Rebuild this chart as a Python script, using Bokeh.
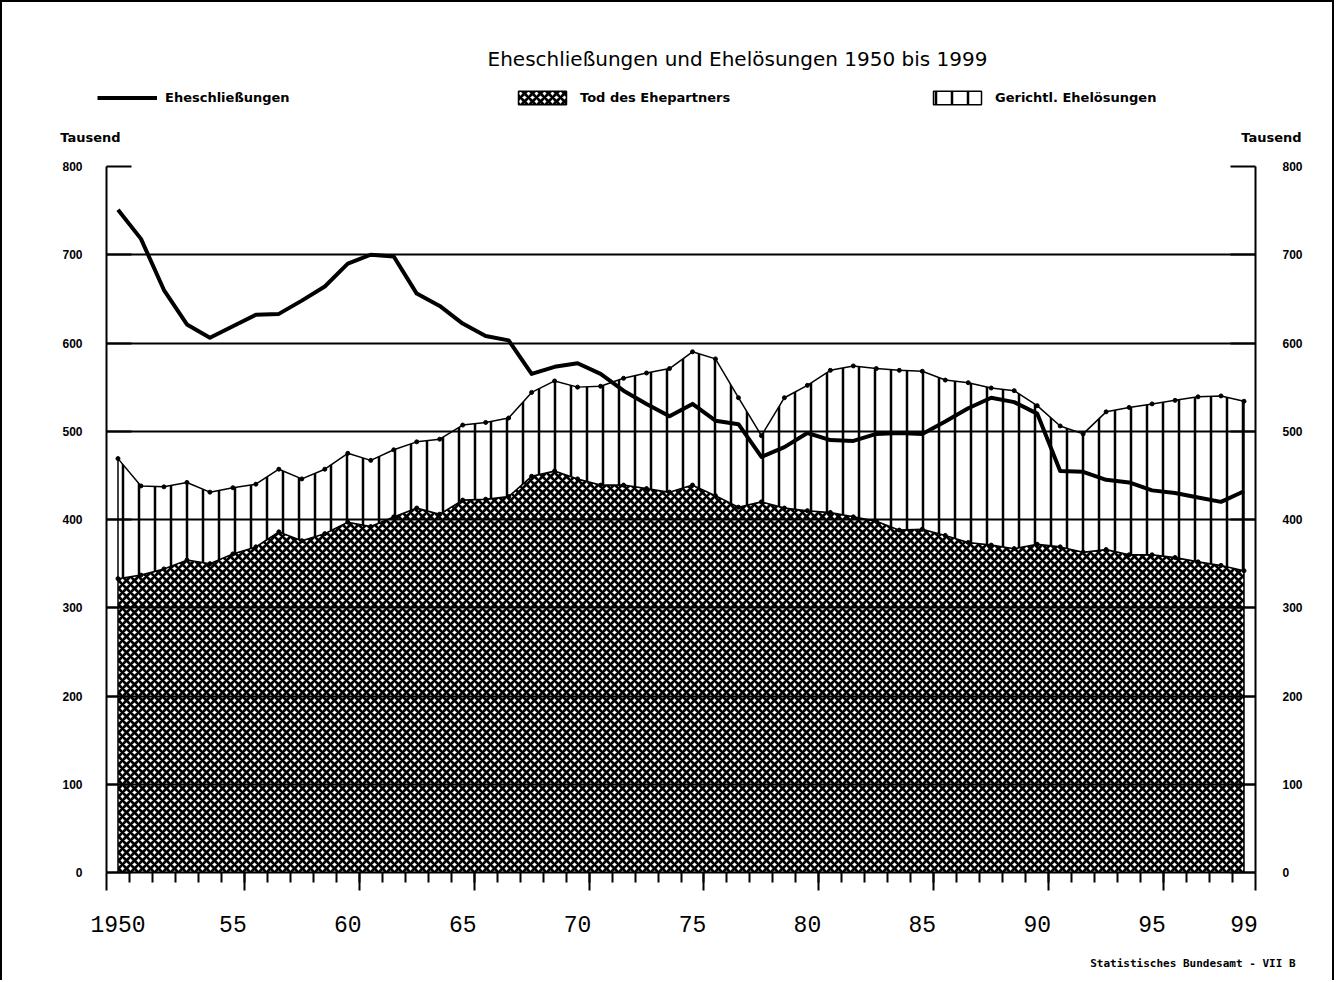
from bokeh.plotting import figure
from bokeh.layouts import column
from bokeh.models import (FixedTicker, LinearAxis, Legend, LegendItem, Label, Grid,
                          Range1d)
from bokeh.embed import file_html
from bokeh.resources import INLINE

# ---------------- data (thousands) ----------------
years = list(range(1950, 2000))

eheschliessungen = [751, 718, 660, 621, 606, 619, 632, 633, 648, 664,
                    690, 700, 698, 656, 642, 622, 608, 603, 565, 573,
                    577, 565, 546, 531, 517, 531, 512, 508, 471, 482,
                    498, 490, 489, 497, 498, 497, 511, 526, 538, 533,
                    520, 455, 454, 445, 442, 433, 430, 425, 420, 432]

tod_ehepartner = [333, 337, 344, 354, 350, 361, 369, 386, 376, 384,
                  397, 392, 403, 413, 406, 422, 423, 426, 449, 455,
                  446, 439, 439, 435, 431, 439, 427, 414, 420, 413,
                  410, 408, 403, 398, 388, 389, 382, 374, 371, 367,
                  372, 369, 363, 366, 360, 360, 357, 352, 348, 342]

gerichtl_eheloesungen = [136, 101, 93, 88, 81, 75, 71, 71, 70, 73,
                         78, 75, 76, 75, 85, 85, 87, 89, 95, 102,
                         104, 112, 121, 131, 140, 151, 155, 124, 75, 125,
                         142, 161, 171, 173, 181, 179, 176, 181, 178, 179,
                         157, 137, 134, 156, 167, 171, 178, 187, 192, 192]

y_ticks = [0, 100, 200, 300, 400, 500, 600, 700, 800]
grid_ticks = [100, 200, 300, 400, 500, 600, 700]
x_label_years = [1950, 1955, 1960, 1965, 1970, 1975, 1980, 1985, 1990, 1995, 1999]
x_label_texts = ["1950", "55", "60", "65", "70", "75", "80", "85", "90", "95", "99"]

title_text = "Eheschließungen und Ehelösungen 1950 bis 1999"
unit_text = "Tausend"
source_text = "Statistisches Bundesamt - VII B"
series_names = ["Eheschließungen", "Tod des Ehepartners", "Gerichtl. Ehelösungen"]

# stacked total (death + divorce)
total = [t + g for t, g in zip(tod_ehepartner, gerichtl_eheloesungen)]

W = 1330
LINE = dict(line_color="black", line_width=4, line_join="round")
TOD = dict(fill_color="white", hatch_pattern="diagonal_cross", hatch_color="black",
           hatch_scale=8, hatch_weight=2.7, line_color="black", line_width=1.5)
GER = dict(fill_color="white", hatch_pattern="vertical_line", hatch_color="black",
           hatch_scale=16, hatch_weight=2.5, line_color="black", line_width=1.5)


def blank(height):
    f = figure(width=W, height=height, x_range=Range1d(0, W), y_range=Range1d(height, 0),
               output_backend="svg", toolbar_location=None, title=None,
               x_axis_type=None, y_axis_type=None, min_border=0)
    f.frame_align = False
    f.outline_line_color = None
    f.background_fill_color = "white"
    f.border_fill_color = "white"
    return f


# ---------------- header: title, legend, unit labels ----------------
header = blank(150)
header.add_layout(Label(x=735, y=56, text=title_text, text_align="center",
                        text_baseline="middle", text_font="DejaVu Sans",
                        text_font_size="20px", text_color="black"))
for ux in (88, 1269):
    header.add_layout(Label(x=ux, y=135, text=unit_text, text_align="center",
                            text_baseline="middle", text_font="DejaVu Sans",
                            text_font_style="bold", text_font_size="13px",
                            text_color="black"))

# legend carriers (single first point of each series, outside this strip's range)
h_line = header.line(years[:1], eheschliessungen[:1], **LINE)
h_tod = header.patch(years[:1], tod_ehepartner[:1], **TOD)
h_ger = header.patch(years[:1], total[:1], **GER)
legend = Legend(items=[LegendItem(label=series_names[0], renderers=[h_line]),
                       LegendItem(label=series_names[1], renderers=[h_tod]),
                       LegendItem(label=series_names[2], renderers=[h_ger])],
                orientation="horizontal", location=(95, 46),
                glyph_width=60, glyph_height=17, label_width=337, spacing=10,
                label_standoff=8, padding=0, margin=0,
                border_line_color=None, background_fill_alpha=0,
                label_text_font="DejaVu Sans", label_text_font_style="bold",
                label_text_font_size="13px", label_text_color="black")
header.add_layout(legend)

# ---------------- main chart ----------------
p = figure(width=W, height=795,
           x_range=(1949.5, 1999.5), y_range=(0, 800),
           output_backend="svg", toolbar_location=None, title=None,
           x_axis_type=None, y_axis_type=None,
           min_border_left=104, min_border_right=77,
           min_border_top=14, min_border_bottom=75)
p.frame_align = False
p.outline_line_color = None
p.background_fill_color = "white"
p.border_fill_color = "white"

tod_xs = years + years[::-1]
tod_ys = tod_ehepartner + [0] * len(years)
p.patch(tod_xs, tod_ys, **TOD)

ger_xs = years + years[::-1]
ger_ys = total + tod_ehepartner[::-1]
p.patch(ger_xs, ger_ys, **GER)

p.scatter(years, total, size=4, color="black")
p.scatter(years, tod_ehepartner, size=4, color="black")

p.add_layout(Grid(dimension=1, ticker=FixedTicker(ticks=grid_ticks),
                  grid_line_color="black", grid_line_width=2, level="overlay"))

p.line(years, eheschliessungen, **LINE)


def y_axis(standoff):
    return LinearAxis(ticker=FixedTicker(ticks=y_ticks),
                      major_tick_in=25, major_tick_out=0,
                      major_tick_line_width=2, minor_tick_line_color=None,
                      axis_line_width=2, major_label_standoff=standoff,
                      major_label_text_font="Liberation Sans",
                      major_label_text_font_style="bold",
                      major_label_text_font_size="12px",
                      major_label_text_color="black")


p.add_layout(y_axis(24), "left")
p.add_layout(y_axis(27), "right")

major_b = [1949.5, 1955.5, 1960.5, 1965.5, 1970.5, 1975.5, 1980.5, 1985.5,
           1990.5, 1995.5, 1999.5]
minor_b = [y + 0.5 for y in years[:-1]]
xa = LinearAxis(ticker=FixedTicker(ticks=major_b, minor_ticks=minor_b),
                major_tick_out=18, major_tick_in=0,
                minor_tick_out=10, minor_tick_in=0,
                axis_line_width=2, major_tick_line_width=2, minor_tick_line_width=2,
                major_label_text_font_size="1px", major_label_text_color=None,
                major_label_standoff=0)
p.add_layout(xa, "below")

xb = LinearAxis(ticker=FixedTicker(ticks=x_label_years),
                major_label_overrides=dict(zip(x_label_years, x_label_texts)),
                axis_line_color=None, major_tick_line_color=None,
                minor_tick_line_color=None,
                major_label_text_font="Liberation Mono",
                major_label_text_font_size="23px",
                major_label_text_color="black",
                major_label_standoff=19)
p.add_layout(xb, "below")

# ---------------- footer ----------------
footer = blank(33)
footer.add_layout(Label(x=1293, y=16, text=source_text, text_align="right",
                        text_baseline="middle", text_font="DejaVu Sans Mono",
                        text_font_style="bold", text_font_size="11px",
                        text_color="black"))

layout = column(header, p, footer, spacing=0,
                styles={"border-top": "2px solid black", "border-left": "2px solid black",
                        "border-right": "2px solid black"})

open("out.html", "w").write(file_html(layout, INLINE))
